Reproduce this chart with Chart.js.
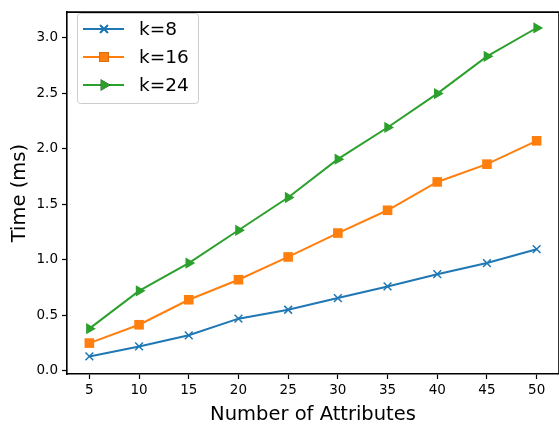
<!DOCTYPE html>
<html>
<head>
<meta charset="utf-8">
<script src="https://cdn.jsdelivr.net/npm/chart.js@4"></script>
<style>
  html, body { margin: 0; padding: 0; background: #fff; }
  #wrap { width: 559px; height: 427px; }
</style>
</head>
<body>
<div id="wrap"><canvas id="chart"></canvas></div>
<script>
const attributes = [5, 10, 15, 20, 25, 30, 35, 40, 45, 50];
const timeK8 = [0.13, 0.22, 0.32, 0.47, 0.55, 0.655, 0.76, 0.87, 0.97, 1.095];
const timeK16 = [0.25, 0.415, 0.64, 0.82, 1.025, 1.24, 1.445, 1.70, 1.86, 2.07];
const timeK24 = [0.38, 0.72, 0.97, 1.265, 1.56, 1.905, 2.19, 2.495, 2.83, 3.085];
const xTicks = [5, 10, 15, 20, 25, 30, 35, 40, 45, 50];
const yTicks = [0, 0.5, 1.0, 1.5, 2.0, 2.5, 3.0];
const seriesNames = ["k=8", "k=16", "k=24"];

const font = "DejaVu Sans";

function pts(ys) {
  return attributes.map((x, i) => ({ x: x, y: ys[i] }));
}

// legend + top/right spines, matplotlib style
const mplExtras = {
  id: "mplExtras",
  afterDraw(chart) {
    const ctx = chart.ctx;
    const a = chart.chartArea;
    ctx.save();
    ctx.strokeStyle = "#000";
    ctx.lineWidth = 1.6;
    ctx.beginPath();
    ctx.moveTo(a.left, a.top);
    ctx.lineTo(a.right, a.top);
    ctx.lineTo(a.right, a.bottom);
    ctx.stroke();

    // legend box
    const bx = 77, by = 13, bw = 121, bh = 90;
    ctx.fillStyle = "rgba(255,255,255,0.8)";
    ctx.strokeStyle = "#cccccc";
    ctx.lineWidth = 1;
    ctx.beginPath();
    ctx.roundRect(bx + 0.5, by + 0.5, bw, bh, 3);
    ctx.fill();
    ctx.stroke();

    chart.data.datasets.forEach((ds, i) => {
      const y = 29 + i * 28;
      ctx.strokeStyle = ds.borderColor;
      ctx.lineWidth = ds.borderWidth;
      ctx.beginPath();
      ctx.moveTo(83, y);
      ctx.lineTo(124, y);
      ctx.stroke();
      Chart.helpers.drawPoint(ctx, {
        pointStyle: ds.pointStyle,
        rotation: ds.pointRotation || 0,
        radius: ds.pointRadius,
        borderWidth: ds.pointBorderWidth
      }, 104, y);
      if (ds.pointStyle === "crossRot") {
        ctx.strokeStyle = ds.pointBorderColor;
        ctx.lineWidth = ds.pointBorderWidth;
        ctx.stroke();
      } else {
        ctx.fillStyle = ds.pointBackgroundColor;
        ctx.fill();
      }
      ctx.fillStyle = "#000";
      ctx.font = "18.5px '" + font + "'";
      ctx.textBaseline = "middle";
      ctx.textAlign = "left";
      ctx.fillText(ds.label, 139, y + 1);
    });
    ctx.restore();
  }
};

new Chart(document.getElementById("chart"), {
  type: "line",
  data: {
    datasets: [
      {
        label: seriesNames[0],
        data: pts(timeK8),
        borderColor: "#1f77b4",
        borderWidth: 2,
        pointStyle: "crossRot",
        pointRadius: 5.5,
        pointBorderColor: "#1f77b4",
        pointBackgroundColor: "#1f77b4",
        pointBorderWidth: 1.5
      },
      {
        label: seriesNames[1],
        data: pts(timeK16),
        borderColor: "#ff7f0e",
        borderWidth: 2,
        pointStyle: "rect",
        pointRadius: 6.8,
        pointBorderColor: "#ff7f0e",
        pointBackgroundColor: "#ff7f0e",
        pointBorderWidth: 0
      },
      {
        label: seriesNames[2],
        data: pts(timeK24),
        borderColor: "#2ca02c",
        borderWidth: 2,
        pointStyle: "triangle",
        pointRotation: 90,
        pointRadius: 6.5,
        pointBorderColor: "#2ca02c",
        pointBackgroundColor: "#2ca02c",
        pointBorderWidth: 0
      }
    ]
  },
  options: {
    responsive: true,
    maintainAspectRatio: false,
    animation: false,
    layout: { autoPadding: false, padding: { top: 5, right: 0, left: 0, bottom: 0 } },
    plugins: {
      legend: { display: false },
      tooltip: { enabled: false }
    },
    scales: {
      x: {
        type: "linear",
        min: 2.75,
        max: 52.25,
        afterBuildTicks: (s) => { s.ticks = xTicks.map((v) => ({ value: v })); },
        afterFit: (s) => { s.height = 53; },
        grid: { display: true, drawOnChartArea: false, drawTicks: true, tickLength: 5, color: "#000", tickWidth: 1.2 },
        border: { display: true, color: "#000", width: 1.6 },
        ticks: { color: "#000", font: { family: font, size: 13.5 }, padding: 3, maxRotation: 0, autoSkip: false },
        title: { display: true, text: "Number of Attributes", color: "#000", font: { family: font, size: 19.5 }, padding: { top: 2, bottom: 0 } }
      },
      y: {
        type: "linear",
        min: -0.028,
        max: 3.228,
        afterBuildTicks: (s) => { s.ticks = yTicks.map((v) => ({ value: v })); },
        afterFit: (s) => { s.width = 67; },
        grid: { display: true, drawOnChartArea: false, drawTicks: true, tickLength: 5, color: "#000", tickWidth: 1.2 },
        border: { display: true, color: "#000", width: 1.6 },
        ticks: { color: "#000", font: { family: font, size: 13.5 }, padding: 4, autoSkip: false, callback: (v) => v.toFixed(1) },
        title: { display: true, text: "Time (ms)", color: "#000", font: { family: font, size: 19.5 }, padding: { top: 8, bottom: 0 } }
      }
    }
  },
  plugins: [mplExtras]
});
</script>
</body>
</html>
